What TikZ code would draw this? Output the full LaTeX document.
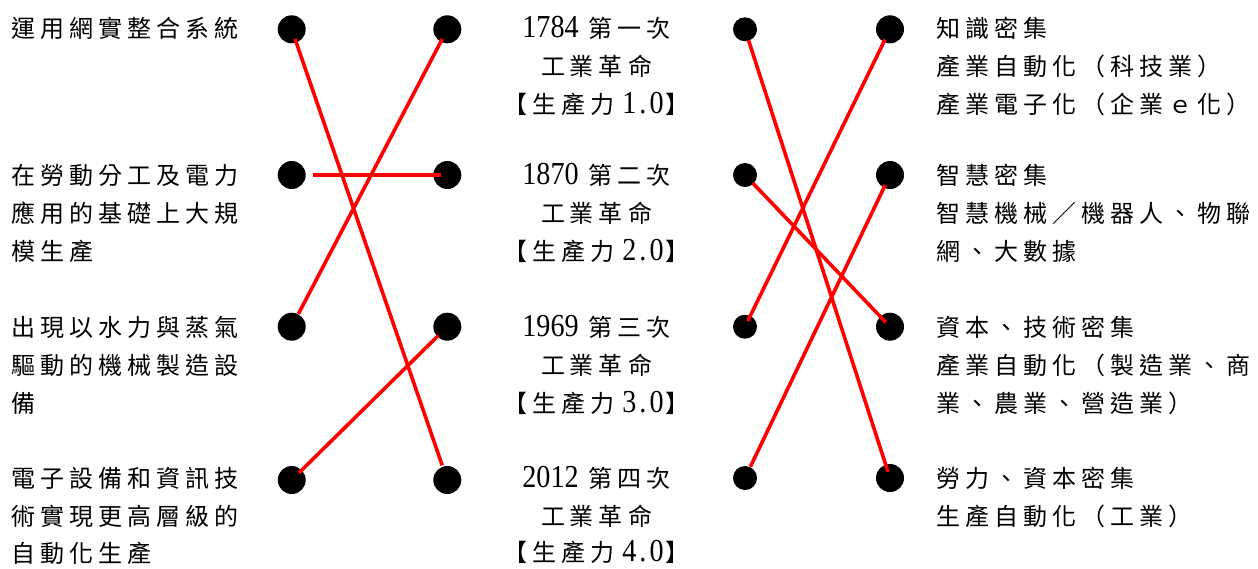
\documentclass[tikz,border=0pt]{standalone}
\usepackage{fontspec}
\setmainfont{Liberation Serif}
\newfontfamily\cjk{Noto Sans CJK TC}
\newfontfamily\numfont[FakeStretch=0.88]{Liberation Serif}
\usetikzlibrary{calc}

% evenly spaced CJK characters
\newlength\chsp
\setlength\chsp{5pt}
\makeatletter
\def\sp@aux#1{\ifx\relax#1\else#1\kern\chsp\expandafter\sp@aux\fi}
\newcommand\spc[1]{\sp@aux#1\relax\unkern}
\makeatother
\newcommand\ver[2]{{\numfont\fontsize{32}{32}\selectfont #1\kern3pt.\kern3pt#2}}
\newcommand\yr[1]{{\numfont\fontsize{32}{32}\selectfont #1}}

\tikzset{
  txt/.style={inner sep=0pt, anchor=base west, font=\cjk\fontsize{24}{28}\selectfont},
  mid/.style={inner sep=0pt, anchor=base, font=\cjk\fontsize{24}{28}\selectfont},
  dot/.style={circle, fill=black, inner sep=0pt, minimum size=28pt},
  sdot/.style={circle, fill=black, inner sep=0pt, minimum size=24pt},
  link/.style={red, line width=3.6pt}
}

\begin{document}
\begin{tikzpicture}[x=1pt, y=-1pt]
\useasboundingbox (0,0) rectangle (1258,568);

% left column: descriptions
\node[txt] (a1) at (11,37.4) {\spc{運用網實整合系統}};
\node[txt] (b1) at (11,184.1) {\spc{在勞動分工及電力}};
\node[txt] (b2) at (11,222.1) {\spc{應用的基礎上大規}};
\node[txt] (b3) at (11,260.1) {\spc{模生產}};
\node[txt] (c1) at (11,336.1) {\spc{出現以水力與蒸氣}};
\node[txt] (c2) at (11,374.1) {\spc{驅動的機械製造設}};
\node[txt] (c3) at (11,412.1) {\spc{備}};
\node[txt] (d1) at (11,487.6) {\spc{電子設備和資訊技}};
\node[txt] (d2) at (11,525.1) {\spc{術實現更高層級的}};
\node[txt] (d3) at (11,562.6) {\spc{自動化生產}};

% middle column: the four industrial revolutions
\node[mid] (e1) at (596.5,37.4) {\yr{1784}\kern10pt\spc{第一次}};
\node[mid] (e2) at (596.5,75.4) {\spc{工業革命}};
\node[mid] (e3) at (596.5,113.4) {\spc{【生產力}\kern8pt\ver{1}{0}\kern2pt】};
\node[mid] (f1) at (596.5,184.1) {\yr{1870}\kern10pt\spc{第二次}};
\node[mid] (f2) at (596.5,222.1) {\spc{工業革命}};
\node[mid] (f3) at (596.5,260.1) {\spc{【生產力}\kern8pt\ver{2}{0}\kern2pt】};
\node[mid] (g1) at (596.5,336.1) {\yr{1969}\kern10pt\spc{第三次}};
\node[mid] (g2) at (596.5,374.1) {\spc{工業革命}};
\node[mid] (g3) at (596.5,412.1) {\spc{【生產力}\kern8pt\ver{3}{0}\kern2pt】};
\node[mid] (h1) at (596.5,487.6) {\yr{2012}\kern10pt\spc{第四次}};
\node[mid] (h2) at (596.5,525.1) {\spc{工業革命}};
\node[mid] (h3) at (596.5,561.6) {\spc{【生產力}\kern8pt\ver{4}{0}\kern2pt】};

% right column: industry types
\node[txt] (i1) at (936,37.4) {\spc{知識密集}};
\node[txt] (i2) at (936,75.4) {\spc{產業自動化（科技業）}};
\node[txt] (i3) at (936,113.4) {\spc{產業電子化（企業ｅ化）}};
\node[txt] (j1) at (936,184.1) {\spc{智慧密集}};
\node[txt] (j2) at (936,222.1) {\spc{智慧機械／機器人、物聯}};
\node[txt] (j3) at (936,260.1) {\spc{網、大數據}};
\node[txt] (k1) at (936,336.1) {\spc{資本、技術密集}};
\node[txt] (k2) at (936,374.1) {\spc{產業自動化（製造業、商}};
\node[txt] (k3) at (936,412.1) {\spc{業、農業、營造業）}};
\node[txt] (m1) at (936,487.6) {\spc{勞力、資本密集}};
\node[txt] (m2) at (936,525.1) {\spc{生產自動化（工業）}};

% dots
\node[dot] (L1) at (291.7,29.3) {};
\node[dot] (L2) at (291.7,175) {};
\node[dot] (L3) at (291.7,326.7) {};
\node[dot] (L4) at (291.7,480) {};
\node[dot] (M1) at (447.3,29.3) {};
\node[dot] (M2) at (447.3,175) {};
\node[dot] (M3) at (447.3,326.7) {};
\node[dot] (M4) at (447.3,480) {};
\node[sdot] (P1) at (745,29.3) {};
\node[sdot] (P2) at (745,175) {};
\node[sdot] (P3) at (745,326.7) {};
\node[sdot] (P4) at (745,478) {};
\node[dot] (Q1) at (890,29.3) {};
\node[dot] (Q2) at (890,175) {};
\node[dot] (Q3) at (890,326.7) {};
\node[dot] (Q4) at (890,478) {};

% matching lines
\draw[link] ($(L1)!10pt!(M4)$) -- ($(M4)!15.5pt!(L1)$);
\draw[link] ($(M1)!11pt!(L3)$) -- ($(L3)!14.5pt!(M1)$);
\draw[link] ($(L2)!21pt!(M2)$) -- ($(M2)!6pt!(L2)$);
\draw[link] ($(M3)!12.5pt!(L4)$) -- ($(L4)!10pt!(M3)$);
\draw[link] ($(P1)!11.5pt!(Q4)$) -- ($(Q4)!6.5pt!(P1)$);
\draw[link] ($(P2)!11pt!(Q3)$) -- ($(Q3)!6pt!(P2)$);
\draw[link] ($(P3)!6.3pt!(Q1)$) -- ($(Q1)!11.3pt!(P3)$);
\draw[link] ($(P4)!12.5pt!(Q2)$) -- ($(Q2)!11pt!(P4)$);
\end{tikzpicture}
\end{document}
